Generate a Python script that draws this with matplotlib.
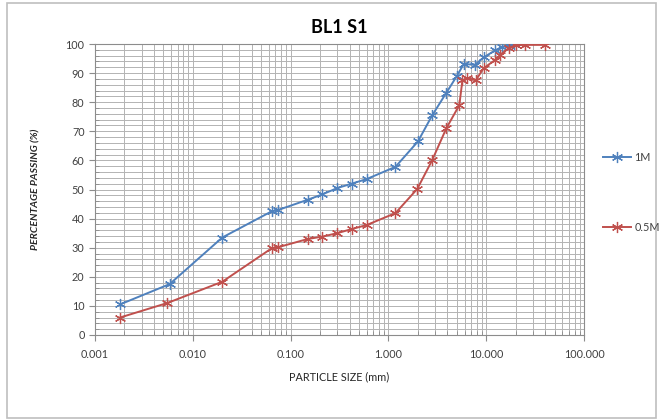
import matplotlib.pyplot as plt
from matplotlib.ticker import FixedLocator, FormatStrFormatter, MultipleLocator
from matplotlib.patches import Rectangle

plt.rcParams['font.family'] = ['Lato', 'DejaVu Sans']

# sieve / hydrometer results
size_1m = [0.0018, 0.0058, 0.020, 0.064, 0.075, 0.15, 0.21, 0.30, 0.42, 0.60,
           1.18, 2.0, 2.8, 3.9, 5.0, 5.9, 7.6, 9.5, 12.3, 14.5, 17.0, 19.0]
pass_1m = [10.5, 17.5, 33.5, 42.5, 43.0, 46.5, 48.3, 50.5, 52.0, 53.6,
           57.8, 66.5, 75.5, 83.2, 89.0, 93.2, 92.8, 95.5, 97.8, 99.0, 99.8, 100.0]

size_05m = [0.0018, 0.0055, 0.020, 0.064, 0.075, 0.15, 0.21, 0.30, 0.42, 0.60,
            1.18, 1.97, 2.8, 3.9, 5.3, 5.7, 6.4, 7.8, 9.4, 12.3, 13.8, 16.9,
            20.0, 25.0, 40.0]
pass_05m = [6.0, 11.0, 18.3, 29.8, 30.2, 33.0, 33.8, 35.0, 36.4, 37.8,
            41.9, 50.2, 60.1, 71.0, 79.0, 87.5, 88.3, 87.5, 91.7, 94.5, 96.2, 98.6,
            99.6, 99.7, 99.7]

x_ticks = [0.001, 0.01, 0.1, 1, 10, 100]

fig = plt.figure(figsize=(6.63, 4.2), dpi=100)
ax = fig.add_axes([0.1433, 0.2024, 0.7377, 0.6928])

mk = (6, 2, 0)
ax.plot(size_1m, pass_1m, color='#4F81BD', lw=1.4, marker=mk, ms=8, mew=0.9, label='1M', zorder=3)
ax.plot(size_05m, pass_05m, color='#C0504D', lw=1.4, marker=mk, ms=8, mew=0.9, label='0.5M', zorder=3)

ax.set_xscale('log')
ax.set_xlim(0.001, 100)
ax.set_ylim(0, 100)
ax.xaxis.set_major_locator(FixedLocator(x_ticks))
ax.xaxis.set_major_formatter(FormatStrFormatter('%.3f'))
minors = [m * 10.0 ** e for e in range(-3, 2) for m in range(2, 10)]
ax.xaxis.set_minor_locator(FixedLocator(minors))
ax.yaxis.set_major_locator(MultipleLocator(10))
ax.yaxis.set_minor_locator(MultipleLocator(2))

ax.grid(True, which='both', color='#b3b3b3', lw=0.7)
ax.set_axisbelow(True)
for s in ax.spines.values():
    s.set_color('#8c8c8c')

ax.tick_params(which='major', direction='out', length=4, color='#8c8c8c', labelsize=7.8,
               labelcolor='#404040')
ax.tick_params(which='minor', direction='in', length=3, color='#8c8c8c')
ax.tick_params(axis='x', pad=6)

ax.set_title('BL1 S1', fontsize=13, fontweight='bold', pad=8)
ax.set_xlabel('PARTICLE SIZE (mm)', fontsize=7.8, color='#262626', labelpad=8)
ax.set_ylabel('PERCENTAGE PASSING (%)', fontsize=7.5, fontweight='bold', style='italic',
              color='#262626', labelpad=18)

fig.legend(loc='center left', bbox_to_anchor=(0.895, 0.542), frameon=False,
           fontsize=7.8, labelspacing=5.4, handlelength=2.6, handletextpad=0.3,
           labelcolor='#404040')

fig.patches.append(Rectangle((0.011, 0.005), 0.978, 0.988, transform=fig.transFigure,
                             fill=False, edgecolor='#bfbfbf', lw=1.2))

fig.savefig('out.png', dpi=100)
